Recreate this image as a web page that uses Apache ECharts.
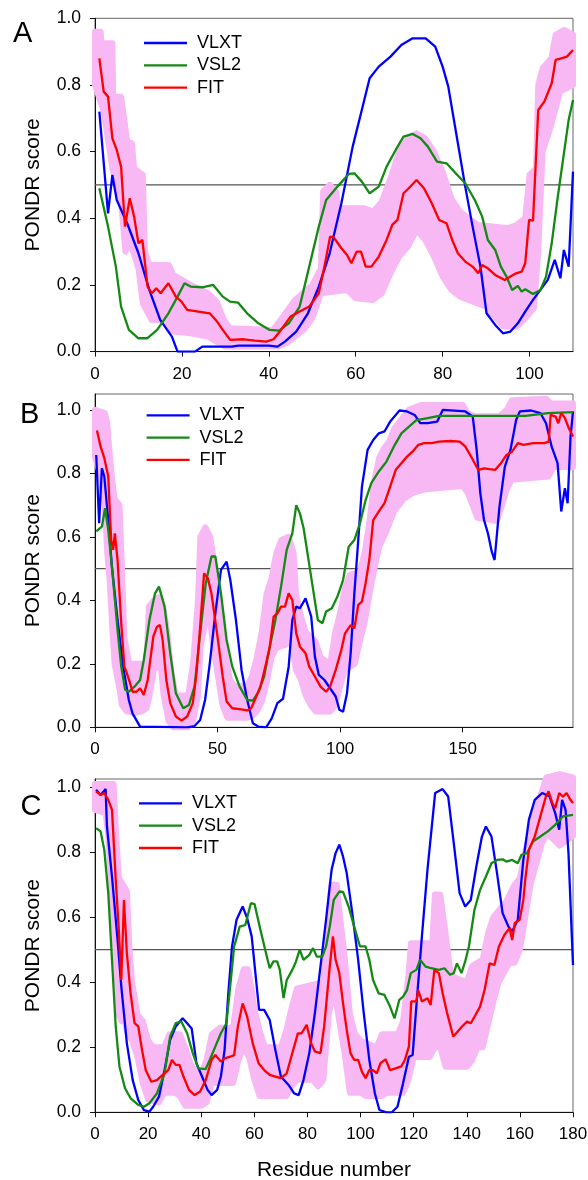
<!DOCTYPE html>
<html>
<head>
<meta charset="utf-8">
<script src="https://cdn.jsdelivr.net/npm/echarts@6/dist/echarts.min.js"></script>
<style>
html,body{margin:0;padding:0;background:#fff;}
#chart{width:588px;height:1180px;}
</style>
</head>
<body>
<div id="chart"></div>
<script>
// ---------- data ----------
const seriesNames = ['VLXT', 'VSL2', 'FIT'];
const panelLetters = ['A', 'B', 'C'];
const yTicks = [0, 0.2, 0.4, 0.6, 0.8, 1.0];
const aXTicks = [0, 20, 40, 60, 80, 100];
const bXTicks = [0, 50, 100, 150];
const cXTicks = [0, 20, 40, 60, 80, 100, 120, 140, 160, 180];
const threshold = 0.5;

// Panel A
const aVlxt = [[1,0.72],[3,0.415],[4,0.53],[5,0.455],[7.4,0.385],[10,0.295],[12.5,0.185],[15,0.095],[17.7,0.045],[19,0.0],[23,0.0],[24.7,0.015],[31.5,0.015],[33,0.018],[40,0.018],[42,0.015],[43.7,0.03],[46.3,0.06],[49,0.115],[51.5,0.195],[54,0.295],[56.7,0.445],[59.3,0.615],[61.4,0.725],[63.2,0.82],[65.3,0.855],[68,0.885],[70.5,0.92],[73.1,0.94],[76.1,0.94],[78.3,0.915],[80,0.855],[81.3,0.795],[82.6,0.695],[83.9,0.595],[85.2,0.495],[86.9,0.375],[88.7,0.255],[90.1,0.115],[92.1,0.08],[93.9,0.055],[95.6,0.06],[97.3,0.085],[99,0.12],[100.8,0.155],[102.5,0.185],[104.2,0.215],[105.8,0.275],[107.1,0.22],[107.9,0.305],[109,0.255],[110,0.54]];
const aVsl2 = [[1,0.49],[3,0.375],[4.8,0.255],[6,0.135],[7.8,0.065],[10,0.04],[12,0.04],[14.3,0.065],[16.9,0.115],[19,0.165],[20.6,0.205],[22,0.195],[24.7,0.193],[27.2,0.2],[29.4,0.165],[31.1,0.15],[32.9,0.147],[35,0.115],[37.6,0.085],[40.2,0.065],[42.4,0.063],[44.6,0.085],[47.1,0.135],[49.3,0.255],[51.5,0.375],[53.2,0.455],[55.8,0.495],[58.4,0.533],[59.7,0.535],[61.4,0.51],[63.2,0.475],[65.3,0.495],[67.1,0.555],[69.2,0.605],[71,0.645],[73.1,0.653],[74.9,0.64],[76.6,0.615],[78.7,0.57],[80.9,0.565],[83,0.535],[85.2,0.505],[87.4,0.455],[89.1,0.405],[90.4,0.335],[92.1,0.305],[93.4,0.255],[94.7,0.225],[96,0.185],[97.3,0.197],[98.2,0.18],[99,0.187],[100.8,0.173],[102.5,0.185],[103.8,0.225],[105.1,0.325],[106.4,0.455],[107.7,0.575],[109,0.695],[110,0.755]];
const aFit = [[1,0.88],[2,0.78],[3,0.765],[4,0.64],[5,0.605],[6,0.555],[6.9,0.375],[8,0.46],[9,0.405],[10,0.325],[10.9,0.335],[12.1,0.195],[13.1,0.175],[14.1,0.19],[15.1,0.175],[16.9,0.205],[18.6,0.165],[19.9,0.15],[21.2,0.125],[23.8,0.12],[26.4,0.115],[28.1,0.09],[29.4,0.065],[31.1,0.035],[34.2,0.037],[36.8,0.033],[39.4,0.03],[41.1,0.037],[42.8,0.065],[45,0.105],[47.1,0.12],[49.3,0.135],[51.5,0.175],[52.8,0.255],[54.1,0.345],[54.9,0.343],[56.7,0.31],[58,0.29],[59,0.265],[60.2,0.3],[61.2,0.3],[62.3,0.255],[63.6,0.255],[65.3,0.285],[67.1,0.335],[68.4,0.38],[69.6,0.395],[71,0.475],[72.2,0.49],[74,0.515],[75.7,0.49],[77.5,0.445],[79.2,0.395],[80.9,0.385],[82.2,0.335],[83.5,0.295],[85.2,0.27],[86.9,0.255],[88.2,0.235],[89.1,0.26],[90.4,0.25],[92.1,0.23],[94.3,0.215],[95.6,0.225],[96.9,0.235],[98.2,0.24],[99,0.265],[99.9,0.395],[100.8,0.393],[102,0.725],[103.4,0.75],[105.1,0.805],[106,0.875],[107.3,0.88],[108.6,0.885],[110,0.905]];
const aBandHi = [[0,0.96],[1.3,0.96],[1.5,0.925],[4,0.925],[4.2,0.765],[6,0.765],[6.5,0.72],[7.4,0.63],[8.5,0.625],[9,0.55],[11,0.53],[11.5,0.3],[12.5,0.26],[17,0.26],[18,0.23],[22,0.2],[26,0.175],[28,0.15],[29.5,0.1],[31,0.07],[41,0.065],[43,0.1],[46,0.155],[50,0.2],[52,0.25],[52.5,0.48],[54,0.5],[55.5,0.48],[56,0.43],[62,0.43],[64,0.42],[66,0.45],[68,0.52],[70,0.6],[72,0.64],[74,0.655],[76,0.64],[78,0.6],[80,0.54],[82,0.46],[84,0.42],[86,0.4],[88,0.38],[92,0.375],[95,0.37],[97,0.38],[99,0.4],[100,0.53],[101.5,0.55],[102,0.8],[103,0.85],[105,0.88],[106,0.95],[108,0.965],[110,0.95]];
const aBandLo = [[0,0.8],[2,0.72],[4,0.55],[6,0.45],[7,0.3],[8,0.33],[10,0.25],[11,0.145],[13,0.095],[16,0.095],[18,0.06],[22,0.055],[26,0.045],[28,0.03],[30,0.015],[42,0.015],[44,0.025],[46,0.045],[48,0.065],[50,0.1],[52,0.175],[58,0.185],[60,0.16],[64,0.155],[66,0.175],[68,0.235],[70,0.285],[72,0.315],[74,0.365],[76,0.335],[78,0.285],[80,0.225],[82,0.185],[84,0.165],[86,0.155],[90,0.135],[92,0.105],[94,0.075],[97,0.075],[99,0.1],[101,0.13],[102,0.3],[103,0.6],[105,0.68],[107,0.78],[110,0.8]];

// Panel B
const bVlxt = [[0.5,0.858],[1.7,0.643],[2.8,0.816],[3.8,0.79],[5.4,0.653],[6.9,0.506],[9.2,0.338],[11.5,0.191],[13.8,0.086],[15.3,0.044],[18.4,0.002],[37.6,0],[40.6,0.004],[42.9,0.023],[44.9,0.086],[46.8,0.2],[49.1,0.36],[51.4,0.496],[53.7,0.522],[55.2,0.464],[57.5,0.338],[59.8,0.18],[62.1,0.086],[64.4,0.013],[66.7,0.002],[69.8,0],[72.1,0.028],[74.4,0.076],[76.7,0.09],[79,0.19],[80.5,0.338],[82.1,0.38],[83.6,0.375],[85.9,0.406],[88.2,0.349],[89.7,0.223],[91.3,0.165],[93.6,0.149],[95.9,0.123],[98.2,0.097],[99.7,0.055],[101.2,0.049],[102.8,0.107],[104.3,0.233],[105.8,0.422],[107.4,0.59],[108.9,0.758],[111.2,0.874],[113.5,0.905],[115.8,0.926],[118.1,0.932],[120.4,0.963],[124.2,0.998],[127.3,0.995],[130.4,0.984],[132.7,0.958],[135.7,0.958],[139.6,0.963],[141.9,1.0],[151.1,0.995],[154.1,0.979],[155.7,0.874],[157.2,0.737],[158.7,0.653],[160.3,0.611],[161.8,0.555],[163,0.527],[165,0.695],[167.2,0.821],[169.5,0.874],[171.8,0.968],[173.3,0.995],[177.9,0.998],[181.7,0.99],[184,0.958],[186.3,0.884],[188.7,0.832],[190.2,0.68],[191.7,0.753],[192.8,0.706],[194,0.916],[195,0.995]];
const bVsl2 = [[0.5,0.617],[2.8,0.632],[4.1,0.69],[5.4,0.622],[6.9,0.506],[9.2,0.307],[10.7,0.191],[12.3,0.118],[13.8,0.112],[16.1,0.128],[18.4,0.149],[19.9,0.212],[22.2,0.338],[24.5,0.422],[26.1,0.443],[28.4,0.38],[30.7,0.233],[33,0.107],[36,0.06],[38.3,0.07],[40.6,0.128],[42.9,0.296],[45.2,0.454],[47.5,0.538],[49.1,0.538],[51.4,0.422],[53.7,0.275],[56,0.191],[59,0.128],[62.1,0.086],[64.4,0.084],[66.7,0.112],[69,0.16],[71.3,0.254],[73.6,0.338],[75.9,0.443],[78.2,0.559],[80.5,0.611],[82.1,0.7],[83.6,0.674],[85.1,0.627],[86.7,0.548],[89,0.433],[90.9,0.338],[92.8,0.328],[94.3,0.365],[96.6,0.375],[98.9,0.412],[101.2,0.464],[103.5,0.569],[105.8,0.59],[108.1,0.643],[110.4,0.716],[112.7,0.769],[115.8,0.806],[118.9,0.837],[121.9,0.884],[125,0.926],[128.1,0.947],[131.1,0.968],[135.7,0.974],[140.3,0.981],[152.6,0.981],[175.6,0.981],[184.8,0.99],[195,0.993]];
const bFit = [[0.8,0.935],[2.3,0.884],[3.8,0.848],[5.4,0.79],[6.6,0.59],[7.4,0.559],[8.1,0.611],[9.2,0.527],[10.7,0.328],[12,0.191],[13,0.17],[14.3,0.139],[15.3,0.112],[16.9,0.112],[18.4,0.123],[19.9,0.102],[21.5,0.149],[23.8,0.286],[25.3,0.317],[26.5,0.322],[27.6,0.275],[29.1,0.149],[30.7,0.076],[33,0.034],[35.3,0.021],[37.6,0.034],[39.9,0.076],[41.4,0.17],[42.9,0.317],[44.5,0.485],[46,0.47],[47.5,0.422],[49.8,0.296],[52.1,0.16],[53.7,0.081],[56,0.06],[59,0.057],[62.1,0.053],[63.7,0.06],[65.2,0.086],[67.5,0.128],[69.8,0.202],[71.3,0.254],[72.9,0.349],[74.4,0.359],[75.9,0.38],[77.5,0.38],[79,0.422],[80.5,0.401],[82.1,0.296],[83.6,0.254],[85.9,0.233],[87.4,0.191],[89.7,0.16],[92,0.128],[94.3,0.112],[95.9,0.128],[98.2,0.181],[100.5,0.244],[102,0.296],[104.3,0.322],[105.8,0.312],[107.4,0.386],[108.9,0.396],[110.4,0.454],[111.9,0.527],[113.5,0.653],[115.8,0.68],[118.1,0.706],[120.4,0.758],[122.7,0.811],[125,0.832],[127.3,0.853],[129.6,0.869],[131.9,0.89],[134.2,0.895],[137.3,0.895],[140.3,0.9],[144.9,0.902],[148.8,0.9],[151.1,0.884],[153.4,0.853],[154.9,0.832],[156.4,0.811],[158.7,0.816],[161,0.813],[163.3,0.811],[165.6,0.832],[167.9,0.858],[170.2,0.869],[172.5,0.895],[174.8,0.89],[178.7,0.895],[183.3,0.895],[185.1,0.9],[185.9,0.984],[187.9,0.979],[189,0.958],[190.2,0.99],[191.7,0.974],[193.3,0.942],[195,0.916]];
const bBandHi = [[0,1.0],[4,0.99],[5,0.96],[6,0.86],[7,0.78],[8,0.72],[10,0.7],[11,0.5],[12,0.28],[14,0.2],[21,0.2],[22,0.38],[24,0.4],[26,0.41],[28,0.37],[29.5,0.3],[31,0.18],[33,0.1],[38,0.1],[40,0.2],[42,0.4],[43,0.6],[45,0.63],[47,0.6],[49,0.5],[51,0.38],[53,0.24],[55,0.15],[57,0.13],[62,0.13],[64,0.16],[66,0.22],[68,0.3],[70,0.42],[72,0.47],[74,0.55],[76,0.59],[79,0.6],[81,0.55],[82,0.42],[84,0.35],[86,0.3],[90,0.27],[92,0.22],[96,0.2],[98,0.3],[100,0.36],[102,0.44],[104,0.48],[108,0.49],[110,0.55],[112,0.65],[114,0.78],[116,0.85],[118,0.88],[120,0.9],[122,0.94],[125,0.97],[128,1.0],[133,1.015],[150,1.015],[152,0.99],[155,0.98],[165,0.98],[168,1.0],[170,1.03],[184,1.035],[186,1.02],[195,1.02]];
const bBandLo = [[0,0.85],[2,0.8],[4,0.7],[5,0.55],[6,0.46],[7,0.32],[8,0.2],[10,0.12],[11,0.07],[13,0.05],[16,0.045],[19,0.05],[21,0.06],[22,0.09],[24,0.18],[26,0.2],[27,0.18],[28,0.1],[30,0.02],[32,0.0],[38,0.0],[40,0.02],[42,0.1],[43,0.25],[45,0.33],[47,0.33],[48,0.27],[50,0.17],[52,0.07],[54,0.03],[62,0.03],[64,0.035],[66,0.05],[68,0.08],[70,0.14],[72,0.22],[74,0.25],[78,0.26],[80,0.28],[82,0.18],[84,0.15],[86,0.1],[88,0.07],[90,0.05],[96,0.05],[98,0.07],[100,0.13],[102,0.18],[106,0.2],[108,0.27],[110,0.33],[112,0.42],[114,0.5],[116,0.57],[119,0.62],[122,0.68],[126,0.72],[130,0.74],[135,0.75],[150,0.76],[152,0.74],[154,0.7],[156,0.66],[164,0.65],[166,0.7],[168,0.75],[170,0.78],[185,0.79],[187,0.82],[195,0.82]];

// Panel C
const cVlxt = [[0.4,0.992],[2.1,0.976],[3.3,0.987],[4,0.994],[4.5,0.879],[6.4,0.725],[8.5,0.53],[9.9,0.387],[12,0.212],[14.2,0.099],[16.3,0.038],[18.4,0.007],[20.5,0.002],[21.9,0.017],[24.1,0.048],[26.2,0.13],[28.3,0.223],[30.4,0.264],[33,0.289],[34.7,0.274],[36.4,0.258],[38.2,0.151],[40.3,0.11],[42.4,0.069],[43.9,0.053],[46,0.069],[47.4,0.11],[48.8,0.192],[50.2,0.366],[51.6,0.51],[53.3,0.592],[55.6,0.633],[57.3,0.597],[59,0.541],[60.4,0.428],[61.8,0.315],[63.7,0.315],[65.8,0.284],[67.9,0.192],[70,0.11],[72.9,0.084],[75,0.058],[76.7,0.053],[78.5,0.099],[80.7,0.182],[82.8,0.305],[84.9,0.448],[87,0.592],[89.1,0.746],[90.6,0.797],[92,0.823],[93.4,0.787],[94.8,0.735],[96.9,0.612],[99.1,0.469],[101.2,0.305],[103.3,0.161],[105.4,0.058],[107.1,0.007],[109.7,0],[111.8,0],[113.9,0.017],[116,0.089],[118.2,0.171],[119.6,0.176],[121,0.325],[123.1,0.541],[125.2,0.746],[128.1,0.982],[130.9,0.994],[133,0.971],[135.1,0.828],[137.3,0.674],[139.4,0.633],[141.5,0.653],[143.6,0.756],[145.7,0.848],[147.2,0.879],[149.3,0.848],[151.4,0.735],[153.5,0.612],[155.7,0.571],[157.1,0.556],[159.2,0.592],[161.3,0.776],[163.4,0.9],[165.6,0.961],[168.4,0.982],[171.2,0.971],[173.3,0.92],[174.8,0.869],[175.9,0.961],[177.2,0.93],[178.3,0.797],[180,0.453]];
const cVsl2 = [[0.4,0.874],[2.1,0.864],[3.5,0.807],[5,0.674],[6.4,0.469],[7.8,0.264],[9.2,0.141],[11.3,0.074],[13.4,0.043],[16.3,0.023],[18.4,0.017],[20.5,0.028],[23.3,0.058],[26.2,0.12],[28.3,0.233],[30.4,0.274],[32.5,0.279],[34.7,0.243],[36.8,0.182],[38.9,0.135],[41.7,0.133],[43.2,0.161],[45.3,0.202],[47.4,0.243],[49.5,0.274],[50.9,0.387],[52.4,0.51],[54.5,0.571],[56.6,0.576],[58.7,0.643],[60.1,0.64],[62.3,0.561],[64.4,0.489],[65.8,0.443],[67.2,0.464],[68.6,0.464],[69.6,0.438],[71,0.351],[72.2,0.407],[74.3,0.438],[75.7,0.464],[77.1,0.5],[78.5,0.469],[80.7,0.484],[82.1,0.505],[83.5,0.479],[85.6,0.479],[87,0.51],[88.4,0.571],[89.9,0.653],[92,0.679],[93.4,0.678],[95.5,0.633],[97.6,0.571],[99.8,0.51],[101.9,0.51],[103.3,0.469],[104.7,0.407],[106.8,0.366],[109,0.361],[111.1,0.325],[112.8,0.289],[114.6,0.346],[116,0.356],[117.5,0.376],[118.9,0.428],[121,0.438],[122.4,0.469],[124.5,0.448],[126.6,0.443],[129.5,0.438],[131.6,0.443],[133.7,0.423],[135.1,0.428],[136.3,0.458],[138,0.428],[139.4,0.464],[140.8,0.51],[142.9,0.623],[145,0.684],[147.2,0.725],[149.3,0.766],[151.4,0.776],[153.5,0.778],[154.9,0.771],[157.1,0.776],[159.2,0.766],[160.6,0.792],[162.7,0.797],[164.9,0.833],[167.7,0.848],[170.5,0.864],[173.3,0.884],[176.2,0.91],[180,0.915]];
const cFit = [[0.4,0.987],[2.1,0.976],[3.5,0.982],[5,0.961],[6.4,0.93],[7.8,0.715],[8.9,0.571],[9.9,0.407],[10.9,0.653],[12,0.489],[13.4,0.366],[14.9,0.274],[16.3,0.264],[17.7,0.192],[19.1,0.13],[21.2,0.094],[23.3,0.099],[25.5,0.115],[27.6,0.13],[29,0.161],[30.4,0.146],[31.8,0.146],[33.3,0.11],[35.4,0.069],[37.5,0.053],[39.6,0.064],[41.7,0.099],[43.9,0.161],[45.3,0.176],[47.4,0.156],[48.8,0.166],[50.9,0.171],[52.4,0.176],[53.8,0.264],[55.6,0.335],[57.3,0.294],[59.4,0.212],[61.6,0.151],[63.7,0.13],[65.8,0.115],[67.9,0.11],[70,0.105],[72.2,0.12],[74.3,0.182],[76.4,0.243],[77.8,0.243],[79.7,0.269],[81.4,0.212],[82.8,0.187],[84.9,0.182],[86.3,0.264],[88.4,0.448],[89.6,0.541],[90.6,0.469],[92,0.428],[93.4,0.335],[94.8,0.253],[96.2,0.182],[97.6,0.161],[99.1,0.161],[100.5,0.125],[101.9,0.105],[103.3,0.13],[104.7,0.13],[106.1,0.12],[107.5,0.151],[109.4,0.163],[111.1,0.13],[113.2,0.135],[115.3,0.141],[116.7,0.161],[118.2,0.202],[119.1,0.341],[121,0.341],[121.7,0.376],[123.1,0.341],[125.2,0.351],[126.4,0.33],[127.8,0.438],[129.5,0.428],[130.9,0.366],[132.6,0.305],[134.9,0.233],[136.5,0.248],[138.2,0.264],[140.1,0.279],[141.5,0.274],[142.9,0.294],[145,0.325],[146.7,0.376],[148.6,0.458],[150.4,0.453],[152.1,0.51],[154.2,0.546],[156.1,0.566],[157.1,0.53],[158.1,0.582],[159.9,0.592],[161.3,0.653],[162,0.715],[163.4,0.807],[165.6,0.848],[167.7,0.91],[169.8,0.971],[170.8,0.987],[172.2,0.951],[173.3,0.935],[174.8,0.982],[176.2,0.971],[177.6,0.982],[179,0.961],[180,0.951]];
const cBandHi = [[0,1.01],[7,1.01],[8,0.85],[9,0.72],[12,0.68],[13,0.5],[14,0.4],[16,0.3],[18,0.28],[20,0.22],[22,0.2],[26,0.2],[28,0.24],[32,0.24],[34,0.2],[36,0.15],[38,0.12],[40,0.12],[42,0.16],[44,0.24],[47,0.26],[52,0.26],[54,0.38],[56,0.44],[57.5,0.44],[59,0.38],[60,0.32],[62,0.25],[64,0.2],[70,0.2],[72,0.25],[74,0.32],[76,0.38],[86,0.4],[88,0.6],[89,0.7],[91,0.7],[92,0.62],[94,0.48],[96,0.3],[98,0.24],[100,0.22],[106,0.2],[108,0.24],[114,0.24],[116,0.28],[118,0.42],[119,0.52],[127,0.52],[128,0.67],[130,0.67],[132,0.55],[134,0.42],[140,0.4],[142,0.45],[146,0.47],[148,0.55],[150,0.6],[152,0.62],[155,0.65],[158,0.7],[160,0.72],[162,0.8],[165,0.9],[168,0.98],[170,1.03],[175,1.04],[180,1.03]];
const cBandLo = [[0,0.93],[4,0.92],[5,0.85],[7,0.6],[8,0.45],[9,0.3],[10,0.28],[11,0.3],[12,0.25],[14,0.22],[16,0.17],[18,0.09],[20,0.04],[24,0.03],[26,0.06],[30,0.06],[32,0.05],[34,0.02],[40,0.02],[42,0.03],[44,0.09],[52,0.09],[54,0.16],[56,0.2],[58,0.17],[60,0.1],[62,0.05],[72,0.05],[74,0.08],[76,0.1],[82,0.1],[84,0.08],[86,0.1],[88,0.3],[90,0.38],[92,0.28],[94,0.18],[96,0.06],[100,0.06],[102,0.05],[108,0.05],[110,0.06],[116,0.06],[118,0.1],[120,0.17],[126,0.17],[128,0.2],[130,0.2],[132,0.14],[140,0.14],[142,0.16],[144,0.2],[146,0.2],[148,0.27],[150,0.34],[152,0.4],[154,0.43],[156,0.46],[158,0.46],[160,0.5],[162,0.6],[164,0.7],[166,0.76],[168,0.82],[170,0.86],[175,0.82],[180,0.85]];

// ---------- styling / layout ----------
const FONT = 'Liberation Sans, Arial, sans-serif';
const COLORS = {VLXT: '#0000ff', VSL2: '#138a13', FIT: '#ff0000'};
const BAND = '#f8b8f4';

const panels = [
  {letter: panelLetters[0], top: 18.3, yMax: 1.0, xMax: 110, xTicks: aXTicks, vlxt: aVlxt, vsl2: aVsl2, fit: aFit, hi: aBandHi, lo: aBandLo,
   letterPos: [13, 19], legendPos: [144, 34], xName: ''},
  {letter: panelLetters[1], top: 394, yMax: 1.05, xMax: 195, xTicks: bXTicks, vlxt: bVlxt, vsl2: bVsl2, fit: bFit, hi: bBandHi, lo: bBandLo,
   letterPos: [20, 400], legendPos: [146.6, 406.3], xName: ''},
  {letter: panelLetters[2], top: 779, yMax: 1.025, xMax: 180, xTicks: cXTicks, vlxt: cVlxt, vsl2: cVsl2, fit: cFit, hi: cBandHi, lo: cBandLo,
   letterPos: [20.5, 792], legendPos: [139, 794.4], xName: 'Residue number'}
];
const plotHeight = 333.3;

const grid = [], xAxis = [], yAxis = [], series = [], legend = [], title = [];

panels.forEach((p, i) => {
  grid.push({left: 95, right: 15, top: p.top, height: plotHeight, show: true, borderColor: '#666', borderWidth: 1,
    backgroundColor: 'transparent', containLabel: false, outerBoundsMode: 'none'});
  xAxis.push({
    type: 'value', gridIndex: i, min: 0, max: p.xMax,
    name: p.xName, nameLocation: 'middle', nameGap: 47,
    nameTextStyle: {fontFamily: FONT, fontSize: 21, color: '#000'},
    axisLine: {show: true, lineStyle: {color: '#111', width: 1}},
    axisTick: {show: true, length: 5, lineStyle: {color: '#111'}, customValues: p.xTicks},
    axisLabel: {fontFamily: FONT, fontSize: 17, color: '#000', margin: 14, customValues: p.xTicks},
    splitLine: {show: false}
  });
  yAxis.push({
    type: 'value', gridIndex: i, min: 0, max: p.yMax,
    name: 'PONDR score', nameLocation: 'middle', nameGap: 51,
    nameTextStyle: {fontFamily: FONT, fontSize: 21, color: '#000'},
    axisLine: {show: true, lineStyle: {color: '#111', width: 1}},
    axisTick: {show: true, length: 5, lineStyle: {color: '#111'}, customValues: yTicks},
    axisLabel: {fontFamily: FONT, fontSize: 17.5, color: '#000', margin: 14, customValues: yTicks,
      formatter: v => v.toFixed(1)},
    splitLine: {show: false}
  });
  // threshold line (under the band)
  series.push({
    type: 'line', name: 'threshold', xAxisIndex: i, yAxisIndex: i, z: 1,
    data: [[0, threshold], [p.xMax, threshold]], symbol: 'none', silent: true,
    lineStyle: {color: '#555', width: 1.2}
  });
  // FIT error band
  const hi = p.hi, lo = p.lo;
  series.push({
    type: 'custom', name: 'band', xAxisIndex: i, yAxisIndex: i, z: 2, silent: true, clip: false,
    data: [[0, 0]],
    renderItem: function (params, api) {
      const pts = hi.map(q => api.coord(q)).concat(lo.slice().reverse().map(q => api.coord(q)));
      return {type: 'polygon', shape: {points: pts}, style: {fill: BAND, stroke: BAND, lineWidth: 6, lineJoin: 'round'}};
    }
  });
  const lines = [['VLXT', p.vlxt], ['VSL2', p.vsl2], ['FIT', p.fit]];
  lines.forEach(([name, data]) => {
    series.push({
      type: 'line', name: name, xAxisIndex: i, yAxisIndex: i, z: 3,
      data: data, symbol: 'none', showSymbol: false, smooth: false,
      lineStyle: {color: COLORS[name], width: 2.3}, itemStyle: {color: COLORS[name]}
    });
  });
  legend.push({
    data: seriesNames, orient: 'vertical', left: p.legendPos[0], top: p.legendPos[1],
    padding: 0, itemGap: 4.3, itemWidth: 43, itemHeight: 2.3, icon: 'rect',
    selectedMode: false,
    textStyle: {fontFamily: FONT, fontSize: 18, color: '#000', padding: [0, 0, 0, 5]}
  });
  title.push({
    text: p.letter, left: p.letterPos[0], top: p.letterPos[1], padding: 0,
    textStyle: {fontFamily: FONT, fontSize: 29, fontWeight: 'normal', color: '#000'}
  });
});

const chart = echarts.init(document.getElementById('chart'), null, {renderer: 'canvas'});
chart.setOption({
  animation: false,
  backgroundColor: '#fff',
  title: title,
  legend: legend,
  grid: grid,
  xAxis: xAxis,
  yAxis: yAxis,
  series: series
});
</script>
</body>
</html>
